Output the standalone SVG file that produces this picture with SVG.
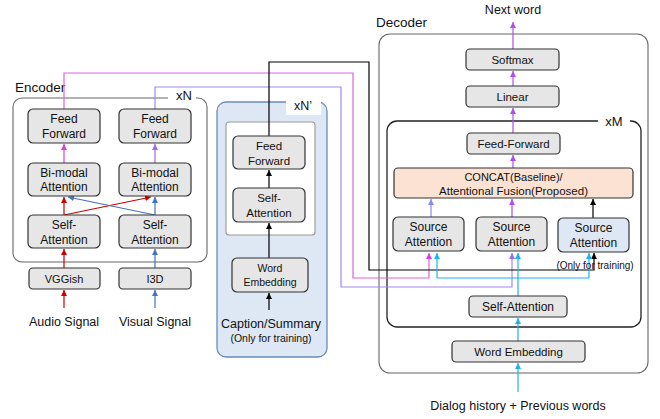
<svg xmlns="http://www.w3.org/2000/svg" width="660" height="419" viewBox="0 0 660 419">
<style>
text{font-family:"Liberation Sans",Arial,sans-serif;fill:#111;text-anchor:middle}
.n{fill:#e6e6e6;stroke:#333;stroke-width:1.2}
.nb{fill:#dde8f4;stroke:#333;stroke-width:1.2}
.t{font-size:11.5px}
.w{fill:none;stroke-width:1.2}
.lbl{font-size:13.5px;text-anchor:start}
</style>
<defs>
<marker id="aR" viewBox="0 0 8 8" refX="8" refY="4" markerWidth="6" markerHeight="6" orient="auto" markerUnits="userSpaceOnUse"><path d="M0,0L8,4L0,8z" fill="#cc0000"/></marker>
<marker id="aB" viewBox="0 0 8 8" refX="8" refY="4" markerWidth="6" markerHeight="6" orient="auto" markerUnits="userSpaceOnUse"><path d="M0,0L8,4L0,8z" fill="#4472c4"/></marker>
<marker id="aM" viewBox="0 0 8 8" refX="8" refY="4" markerWidth="6" markerHeight="6" orient="auto" markerUnits="userSpaceOnUse"><path d="M0,0L8,4L0,8z" fill="#d83ee0"/></marker>
<marker id="aV" viewBox="0 0 8 8" refX="8" refY="4" markerWidth="6" markerHeight="6" orient="auto" markerUnits="userSpaceOnUse"><path d="M0,0L8,4L0,8z" fill="#9a6cf0"/></marker>
<marker id="aP" viewBox="0 0 8 8" refX="8" refY="4" markerWidth="6" markerHeight="6" orient="auto" markerUnits="userSpaceOnUse"><path d="M0,0L8,4L0,8z" fill="#b44cf5"/></marker>
<marker id="aL" viewBox="0 0 8 8" refX="8" refY="4" markerWidth="6" markerHeight="6" orient="auto" markerUnits="userSpaceOnUse"><path d="M0,0L8,4L0,8z" fill="#8a8af0"/></marker>
<marker id="aC" viewBox="0 0 8 8" refX="8" refY="4" markerWidth="6" markerHeight="6" orient="auto" markerUnits="userSpaceOnUse"><path d="M0,0L8,4L0,8z" fill="#1fb2ef"/></marker>
<marker id="aK" viewBox="0 0 8 8" refX="8" refY="4" markerWidth="6" markerHeight="6" orient="auto" markerUnits="userSpaceOnUse"><path d="M0,0L8,4L0,8z" fill="#000"/></marker>
</defs>

<!-- containers -->
<g id="encoder">
<rect x="13" y="98" width="194" height="164" rx="9" fill="none" stroke="#666" stroke-width="1.1"/>
<rect x="168" y="90" width="28" height="14" fill="#fff"/>
<text class="lbl" x="15" y="92">Encoder</text>
<text x="184" y="100" style="font-size:13px">xN</text>
</g>
<g id="caption-block">
<rect x="217" y="102" width="110" height="255" rx="9" fill="#dde8f4" stroke="#6a8cc0" stroke-width="1.3"/>
<rect x="286" y="99" width="35" height="16" fill="#fff"/>
<text x="303" y="110" style="font-size:12.5px">xN’</text>
<rect x="226" y="122" width="89" height="113" rx="3" fill="#fff" stroke="#999" stroke-width="1.1"/>
<text x="271" y="328" style="font-size:12.5px">Caption/Summary</text>
<text x="271" y="342" style="font-size:10.5px">(Only for training)</text>
</g>
<g id="decoder">
<rect x="379" y="34" width="269" height="339" rx="11" fill="none" stroke="#666" stroke-width="1.1"/>
<text class="lbl" x="376" y="27">Decoder</text>
<rect x="387" y="121" width="254" height="206" rx="10" fill="none" stroke="#222" stroke-width="1.3"/>
<rect x="598" y="112" width="32" height="16" fill="#fff"/>
<text x="614" y="126" style="font-size:13px">xM</text>
<text x="513" y="14" style="font-size:12.5px">Next word</text>
<text x="518" y="410" style="font-size:12.5px">Dialog history + Previous words</text>
</g>

<!-- connectors -->
<g id="connectors">
<path class="w" stroke="#e062e0" d="M64,109V73H353V278H429V253" marker-end="url(#aM)"/>
<path class="w" stroke="#a088f4" d="M155,109V87H341V287H512V253" marker-end="url(#aV)"/>
<path class="w" stroke="#000" d="M269,136V62H369V270H594V253" marker-end="url(#aK)"/>
<path class="w" stroke="#cc0000" d="M64,308V290" marker-end="url(#aR)"/>
<path class="w" stroke="#cc0000" d="M64,268V249" marker-end="url(#aR)"/>
<path class="w" stroke="#cc0000" d="M64,215V197" marker-end="url(#aR)"/>
<path class="w" stroke="#cc0000" d="M64,215L151,197" marker-end="url(#aR)"/>
<path class="w" stroke="#4472c4" d="M155,308V290" marker-end="url(#aB)"/>
<path class="w" stroke="#4472c4" d="M155,268V249" marker-end="url(#aB)"/>
<path class="w" stroke="#4472c4" d="M155,215V197" marker-end="url(#aB)"/>
<path class="w" stroke="#4472c4" d="M155,215L68,197" marker-end="url(#aB)"/>
<path class="w" stroke="#d83ee0" d="M64,163V144" marker-end="url(#aM)"/>
<path class="w" stroke="#9a6cf0" d="M155,163V144" marker-end="url(#aV)"/>
<path class="w" stroke="#000" d="M269,310V293" marker-end="url(#aK)"/>
<path class="w" stroke="#000" d="M269,258V223" marker-end="url(#aK)"/>
<path class="w" stroke="#000" d="M269,188V170" marker-end="url(#aK)"/>
<path class="w" stroke="#b44cf5" d="M513,49V22" marker-end="url(#aP)"/>
<path class="w" stroke="#b44cf5" d="M513,86V71" marker-end="url(#aP)"/>
<path class="w" stroke="#b44cf5" d="M513,133V108" marker-end="url(#aP)"/>
<path class="w" stroke="#b44cf5" d="M513,168V155" marker-end="url(#aP)"/>
<path class="w" stroke="#8a8af0" d="M431,217V199" marker-end="url(#aL)"/>
<path class="w" stroke="#a050e8" d="M512,217V199" marker-end="url(#aP)"/>
<path class="w" stroke="#000" d="M593,218V199" marker-end="url(#aK)"/>
<path class="w" stroke="#1fb2ef" d="M518,392V363" marker-end="url(#aC)"/>
<path class="w" stroke="#1fb2ef" d="M518,341V318" marker-end="url(#aC)"/>
<path class="w" stroke="#1fb2ef" d="M518,296V253" marker-end="url(#aC)"/>
<path class="w" stroke="#1fb2ef" d="M437,278H589"/>
<path class="w" stroke="#1fb2ef" d="M437,278V253" marker-end="url(#aC)"/>
<path class="w" stroke="#1fb2ef" d="M589,278V253" marker-end="url(#aC)"/>
</g>

<!-- encoder nodes -->
<g id="enc-ff-audio"><rect class="n" x="28" y="109" width="72" height="34" rx="5"/><text class="t" x="64" y="123" style="font-size:12px">Feed</text><text x="64" y="138" style="font-size:12px">Forward</text></g>
<g id="enc-ff-visual"><rect class="n" x="119" y="109" width="72" height="34" rx="5"/><text x="155" y="123" style="font-size:12px">Feed</text><text x="155" y="138" style="font-size:12px">Forward</text></g>
<g id="enc-bimodal-audio"><rect class="n" x="28" y="163" width="72" height="33" rx="5"/><text x="64" y="177" style="font-size:12px">Bi-modal</text><text x="64" y="191" style="font-size:12px">Attention</text></g>
<g id="enc-bimodal-visual"><rect class="n" x="119" y="163" width="72" height="33" rx="5"/><text x="155" y="177" style="font-size:12px">Bi-modal</text><text x="155" y="191" style="font-size:12px">Attention</text></g>
<g id="enc-self-audio"><rect class="n" x="28" y="215" width="72" height="33" rx="5"/><text x="64" y="229" style="font-size:12px">Self-</text><text x="64" y="244" style="font-size:12px">Attention</text></g>
<g id="enc-self-visual"><rect class="n" x="119" y="215" width="72" height="33" rx="5"/><text x="155" y="229" style="font-size:12px">Self-</text><text x="155" y="244" style="font-size:12px">Attention</text></g>
<g id="vggish"><rect class="n" x="29" y="268" width="71" height="21" rx="4"/><text x="64" y="283" style="font-size:11px">VGGish</text></g>
<g id="i3d"><rect class="n" x="119" y="268" width="72" height="21" rx="4"/><text x="155" y="283" style="font-size:11px">I3D</text></g>
<g id="audio-signal"><text x="64" y="326" style="font-size:12.5px">Audio Signal</text></g>
<g id="visual-signal"><text x="155" y="326" style="font-size:12.5px">Visual Signal</text></g>

<!-- caption nodes -->
<g id="cap-ff"><rect class="n" x="233" y="136" width="72" height="33" rx="5"/><text x="269" y="150" style="font-size:11.5px">Feed</text><text x="269" y="165" style="font-size:11.5px">Forward</text></g>
<g id="cap-self"><rect class="n" x="233" y="188" width="72" height="34" rx="5"/><text x="269" y="202" style="font-size:11.5px">Self-</text><text x="269" y="217" style="font-size:11.5px">Attention</text></g>
<g id="cap-embed"><rect class="n" x="232" y="258" width="76" height="34" rx="5"/><text x="270" y="272" style="font-size:10.5px">Word</text><text x="270" y="286" style="font-size:10.5px">Embedding</text></g>

<!-- decoder nodes -->
<g id="softmax"><rect class="n" x="466" y="49" width="93" height="21" rx="4"/><text x="512.5" y="64" class="t">Softmax</text></g>
<g id="linear"><rect class="n" x="466" y="86" width="93" height="21" rx="4"/><text x="512.5" y="101" class="t">Linear</text></g>
<g id="dec-ff"><rect class="n" x="467" y="133" width="93" height="21" rx="4"/><text x="513.5" y="148" class="t">Feed-Forward</text></g>
<g id="fusion"><rect x="394" y="168" width="239" height="30" rx="4" fill="#fbe2d3" stroke="#333" stroke-width="1.2"/><text x="513.5" y="181" style="font-size:11px">CONCAT(Baseline)/</text><text x="513.5" y="195" class="t">Attentional Fusion(Proposed)</text></g>
<g id="src-att-1"><rect class="n" x="393" y="217" width="71" height="34" rx="5"/><text x="428.5" y="231" style="font-size:12px">Source</text><text x="428.5" y="246" style="font-size:12px">Attention</text></g>
<g id="src-att-2"><rect class="n" x="476" y="217" width="71" height="34" rx="5"/><text x="511.5" y="231" style="font-size:12px">Source</text><text x="511.5" y="246" style="font-size:12px">Attention</text></g>
<g id="src-att-3"><rect class="nb" x="558" y="218" width="71" height="34" rx="5"/><text x="593.5" y="232" style="font-size:12px">Source</text><text x="593.5" y="247" style="font-size:12px">Attention</text><text x="595" y="269" style="font-size:10px">(Only for training)</text></g>
<g id="dec-self"><rect class="n" x="469" y="296" width="98" height="21" rx="4"/><text x="518" y="311" style="font-size:12px">Self-Attention</text></g>
<g id="dec-embed"><rect class="n" x="452" y="341" width="133" height="21" rx="4"/><text x="518.5" y="356" style="font-size:11.5px">Word Embedding</text></g>
</svg>
